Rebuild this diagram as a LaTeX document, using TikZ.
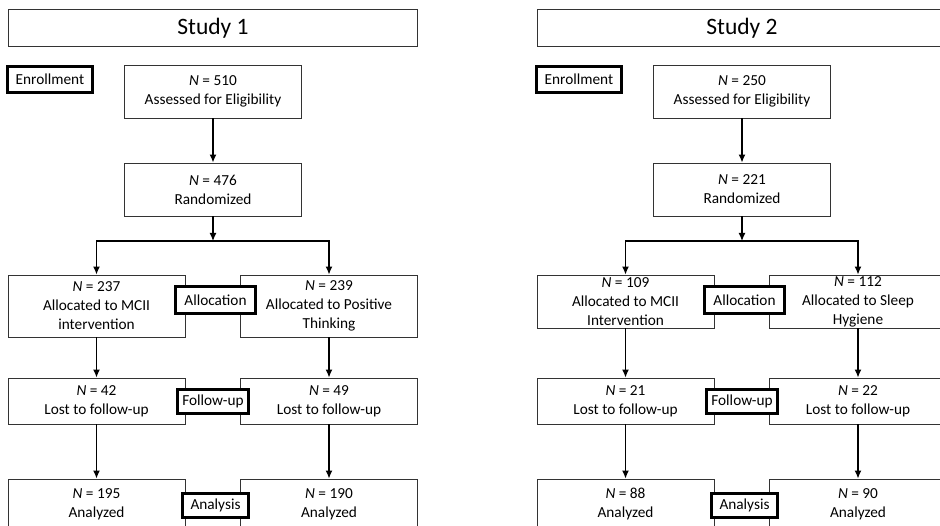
\documentclass[tikz,border=0pt]{standalone}
\usepackage{fontspec}
\setmainfont{Carlito}
\usetikzlibrary{arrows.meta}

\tikzset{
	box/.style={draw=black!80, line width=0.9pt, fill=white, align=center, inner sep=0pt,
		minimum width=177pt, font=\fontsize{15.3}{19}\selectfont},
	stage/.style={draw=black, line width=2.6pt, fill=white, inner sep=0pt,
		font=\fontsize{15.3}{19}\selectfont},
	studytitle/.style={draw=black!80, line width=0.9pt, inner sep=0pt,
		minimum width=409pt, minimum height=37pt, font=\fontsize{23.5}{28}\selectfont},
	flow/.style={-{Latex[length=8pt,width=7pt]}, line width=1.3pt},
}

\begin{document}
\begin{tikzpicture}[x=1pt, y=-1pt]
	\useasboundingbox (0,0) rectangle (940,526);
	\clip (0,0) rectangle (940,526);

	% Study 1
	\node[studytitle] (title1) at (213,28) {Study 1};
	\node[stage, minimum width=85pt, minimum height=26pt] (enroll1) at (50,79.5) {Enrollment};
	\node[box, minimum height=53pt] (elig1) at (213,91.5) {\textit{N} = 510\\Assessed for Eligibility};
	\node[box, minimum height=53pt] (rand1) at (213,189.5) {\textit{N} = 476\\Randomized};
	\coordinate (split1) at (213,241);
	\node[box, minimum height=62pt] (allocL1) at (96.5,306) {\textit{N} = 237\\Allocated to MCII\\intervention};
	\node[box, minimum height=62pt] (allocR1) at (329,306) {\textit{N} = 239\\Allocated to Positive\\Thinking};
	\node[box, minimum height=46pt] (lostL1) at (96.5,401) {\textit{N} = 42\\Lost to follow-up};
	\node[box, minimum height=46pt] (lostR1) at (329,401) {\textit{N} = 49\\Lost to follow-up};
	\node[box, minimum height=50pt] (anL1) at (96.5,504) {\textit{N} = 195\\Analyzed};
	\node[box, minimum height=50pt] (anR1) at (329,504) {\textit{N} = 190\\Analyzed};

	\draw[flow] (elig1) -- (rand1);
	\draw[flow] (rand1) -- (split1);
	\draw[flow] (split1) -| (allocL1.north);
	\draw[flow] (split1) -| (allocR1.north);
	\draw[flow] (allocL1) -- (lostL1);
	\draw[flow] (allocR1) -- (lostR1);
	\draw[flow] (lostL1) -- (anL1);
	\draw[flow] (lostR1) -- (anR1);

	\node[stage, minimum width=80pt, minimum height=27pt] (alloclab1) at (215.5,300) {Allocation};
	\node[stage, minimum width=71pt, minimum height=24pt] (followlab1) at (213,401.5) {Follow-up};
	\node[stage, minimum width=66pt, minimum height=24pt] (analab1) at (215.5,505.5) {Analysis};

	% Study 2
	\node[studytitle] (title2) at (742,28) {Study 2};
	\node[stage, minimum width=85pt, minimum height=26pt] (enroll2) at (579,79.5) {Enrollment};
	\node[box, minimum height=53pt] (elig2) at (742,91.5) {\textit{N} = 250\\Assessed for Eligibility};
	\node[box, minimum height=53pt] (rand2) at (742,189.5) {\textit{N} = 221\\Randomized};
	\coordinate (split2) at (742,241);
	\node[box, minimum height=53pt] (allocL2) at (625.5,301.5) {\textit{N} = 109\\Allocated to MCII\\Intervention};
	\node[box, minimum height=53pt] (allocR2) at (858,301.5) {\textit{N} = 112\\Allocated to Sleep\\Hygiene};
	\node[box, minimum height=46pt] (lostL2) at (625.5,401) {\textit{N} = 21\\Lost to follow-up};
	\node[box, minimum height=46pt] (lostR2) at (858,401) {\textit{N} = 22\\Lost to follow-up};
	\node[box, minimum height=50pt] (anL2) at (625.5,504) {\textit{N} = 88\\Analyzed};
	\node[box, minimum height=50pt] (anR2) at (858,504) {\textit{N} = 90\\Analyzed};

	\draw[flow] (elig2) -- (rand2);
	\draw[flow] (rand2) -- (split2);
	\draw[flow] (split2) -| (allocL2.north);
	\draw[flow] (split2) -| (allocR2.north);
	\draw[flow] (allocL2) -- (lostL2);
	\draw[flow] (allocR2) -- (lostR2);
	\draw[flow] (lostL2) -- (anL2);
	\draw[flow] (lostR2) -- (anR2);

	\node[stage, minimum width=80pt, minimum height=27pt] (alloclab2) at (744.5,300) {Allocation};
	\node[stage, minimum width=71pt, minimum height=24pt] (followlab2) at (742,401.5) {Follow-up};
	\node[stage, minimum width=66pt, minimum height=24pt] (analab2) at (744.5,505.5) {Analysis};
\end{tikzpicture}
\end{document}
